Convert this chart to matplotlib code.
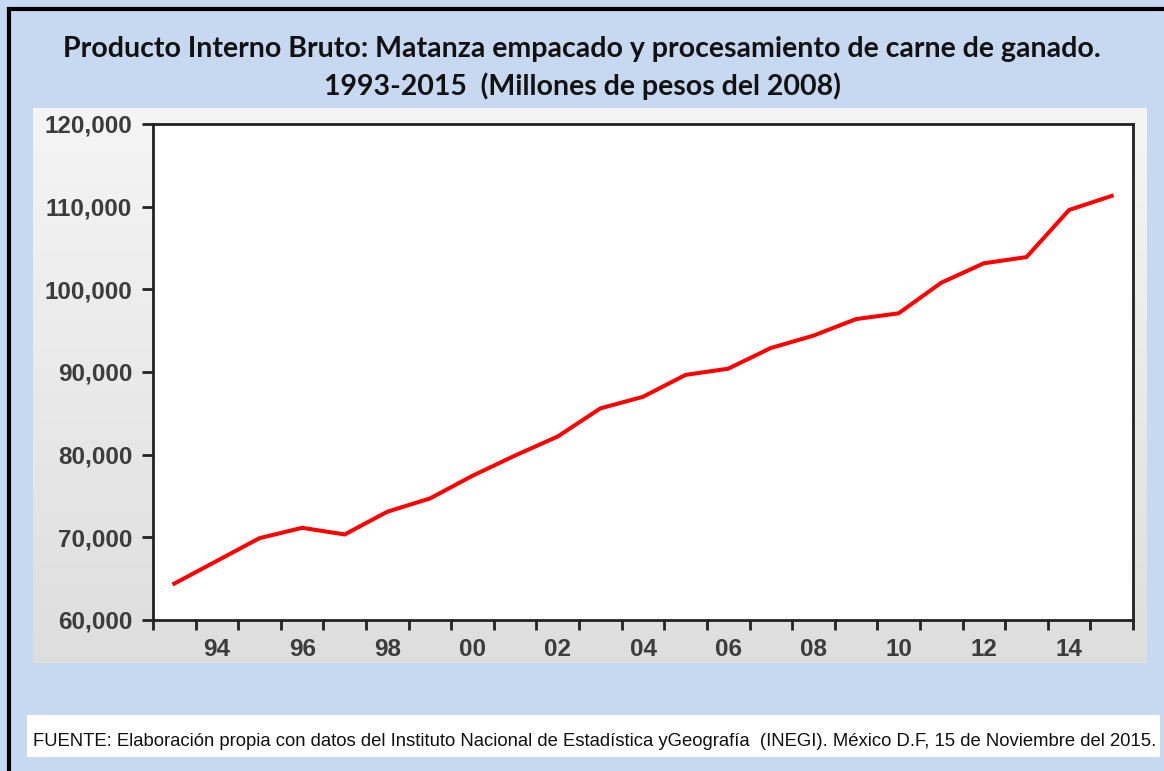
import numpy as np
import matplotlib
matplotlib.use("Agg")
import matplotlib.pyplot as plt
import matplotlib.patches as mpatches
from matplotlib.ticker import FixedLocator, FuncFormatter

years = [1993, 1994, 1995, 1996, 1997, 1998, 1999, 2000, 2001, 2002, 2003, 2004,
         2005, 2006, 2007, 2008, 2009, 2010, 2011, 2012, 2013, 2014, 2015]
pib = [64400, 67150, 69900, 71150, 70350, 73100, 74700, 77450, 79900, 82200,
       85600, 87000, 89650, 90400, 92900, 94400, 96400, 97100, 100800, 103150,
       103900, 109600, 111300]
label_years = [1994, 1996, 1998, 2000, 2002, 2004, 2006, 2008, 2010, 2012, 2014]
y_ticks = [60000, 70000, 80000, 90000, 100000, 110000, 120000]

title = ("Producto Interno Bruto: Matanza empacado y procesamiento de carne de ganado.\n"
         "1993-2015  (Millones de pesos del 2008)")
fuente = ("FUENTE: Elaboración propia con datos del Instituto Nacional de Estadística "
          "yGeografía  (INEGI). México D.F, 15 de Noviembre del 2015.")

W, H = 1164, 771
fig = plt.figure(figsize=(W / 100, H / 100), dpi=100)
fig.patch.set_facecolor("#c6d9f1")

# gray chart panel with slight vertical gradient
bg = fig.add_axes([33 / W, 1 - 663 / H, (1147 - 33) / W, (663 - 108) / H], zorder=0)
grad = np.linspace(0.96, 0.87, 100).reshape(-1, 1)
bg.imshow(np.dstack([grad, grad, grad]), aspect="auto", extent=[0, 1, 0, 1])
bg.axis("off")

# white box behind the source note
fig.patches.append(mpatches.Rectangle((27 / W, 1 - 757 / H), (1160 - 27) / W, 42 / H,
                                      transform=fig.transFigure, facecolor="white",
                                      edgecolor="none", zorder=1))
# outer black frame
fig.patches.append(mpatches.Rectangle((9 / W, -0.2), 1.2, 1.2 - 9 / H,
                                      transform=fig.transFigure, fill=False,
                                      edgecolor="black", linewidth=3, zorder=5))

ax = fig.add_axes([153 / W, 1 - 620 / H, (1133 - 153) / W, (620 - 124) / H], zorder=2)
ax.set_facecolor("white")
ax.plot(years, pib, color="#ff0000", linewidth=2.9, solid_joinstyle="miter")

ax.set_xlim(1992.5, 2015.5)
ax.set_ylim(60000, 120000)
ax.xaxis.set_major_locator(FixedLocator(label_years))
ax.xaxis.set_major_formatter(FuncFormatter(lambda v, p: "%02d" % (int(round(v)) % 100)))
ax.xaxis.set_minor_locator(FixedLocator(np.arange(1992.5, 2016, 1.0)))
ax.set_yticks(y_ticks)
ax.yaxis.set_major_formatter(FuncFormatter(lambda v, p: "{:,.0f}".format(v)))

ax.tick_params(axis="x", which="major", length=0, pad=13)
ax.tick_params(axis="x", which="minor", length=7, width=2, direction="out", color="#222222")
ax.tick_params(axis="y", which="major", length=8, width=2, direction="out", pad=7,
               color="#222222")
for lab in ax.get_xticklabels() + ax.get_yticklabels():
    lab.set_fontfamily("Liberation Sans")
    lab.set_fontweight("bold")
    lab.set_fontsize(17.5)
    lab.set_color("#3c3c3c")
for s in ax.spines.values():
    s.set_linewidth(2)
    s.set_color("#222222")

fig.text(0.5, 1 - 68 / H, title, ha="center", va="center", fontsize=20.5,
         fontweight="bold", family=["Lato", "DejaVu Sans"], color="#111111",
         linespacing=1.45, zorder=3)
fig.text(33 / W, 1 - 741 / H, fuente, ha="left", va="center", fontsize=13.3,
         family=["Liberation Sans Narrow", "Liberation Sans", "DejaVu Sans"],
         color="#111111", zorder=3)

fig.savefig("out.png", dpi=100, facecolor=fig.get_facecolor())
